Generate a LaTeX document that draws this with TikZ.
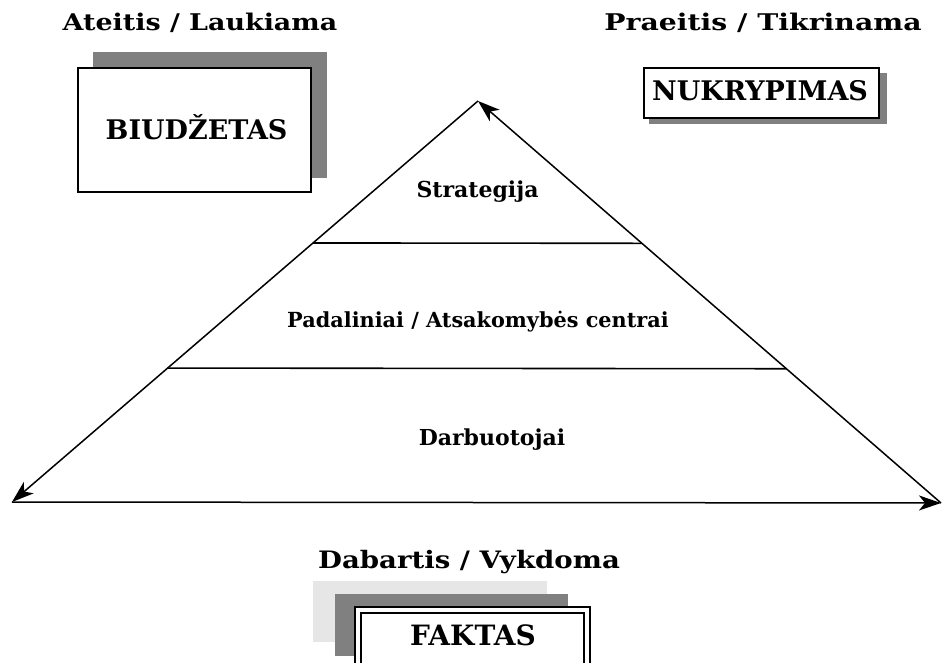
\documentclass[tikz,border=0pt]{standalone}
\usepackage{fontspec}
\usepackage{graphicx}
\setmainfont{DejaVu Serif}
\usetikzlibrary{arrows.meta,calc}
\definecolor{platedark}{RGB}{128,128,128}
\definecolor{platelight}{RGB}{230,230,230}
\begin{document}
\begin{tikzpicture}[x=1pt,y=-1pt,
  txt/.style={inner sep=0pt, anchor=base, font=\bfseries\fontsize{#1}{#1}\selectfont},
  box/.style={draw=black, line width=1.5pt, fill=white, inner sep=0pt},
  plate/.style={fill=#1, draw=none, inner sep=0pt},
  edge/.style={line width=1.5pt, -{Stealth[length=22pt,width=15pt,inset=6pt]}},
  tier/.style={line width=1.6pt}
]
\useasboundingbox (0,0) rectangle (942,663);

% headings
\node[txt=23] (future) at (200,31) {\scalebox{1.17}[1]{Ateitis / Laukiama}};
\node[txt=23] (past) at (763,31) {\scalebox{1.23}[1]{Praeitis / Tikrinama}};
\node[txt=24] (present) at (469,568) {\scalebox{1.15}[1]{Dabartis / Vykdoma}};

% budget box with its backing plate
\node[plate=platedark, minimum width=234pt, minimum height=126pt] (budsh) at (210,115) {};
\node[box, minimum width=233pt, minimum height=124pt] (budget) at (194.5,130) {};
\node[txt=27] (budgettext) at (196.6,140) {BIUDŽETAS};

% deviation box with drop shadow
\node[plate=platedark, minimum width=238pt, minimum height=51pt] (devsh) at (768,98.5) {};
\node[box, minimum width=235pt, minimum height=50pt] (deviation) at (761.5,93) {};
\node[txt=27] (devtext) at (760,101) {NUKRYPIMAS};

% fact box with stacked plates
\node[plate=platelight, minimum width=234pt, minimum height=61pt] (factsh1) at (430,611.5) {};
\node[plate=platedark, minimum width=233pt, minimum height=62pt] (factsh2) at (451.5,625) {};
\node[draw=black, line width=2pt, double=white, double distance=4pt, fill=white, minimum width=229pt, minimum height=58pt, inner sep=0pt] (fact) at (472.5,639) {};
\node[txt=28] (facttext) at (473,645) {FAKTAS};

% pyramid corners
\coordinate (apex) at (478,101);
\coordinate (bl) at (12,502);
\coordinate (br) at (941,503);

% pyramid sides
\draw[edge] (br) -- (apex);
\draw[edge] (apex) -- (bl);
\draw[edge] (bl) -- (br);

% tier boundaries
\coordinate (t1l) at ($(apex)!0.354!(bl)$);
\coordinate (t1r) at ($(apex)!0.354!(br)$);
\coordinate (t2l) at ($(apex)!0.666!(bl)$);
\coordinate (t2r) at ($(apex)!0.666!(br)$);
\draw[tier] (t1l) -- (t1r);
\draw[tier] (t2l) -- (t2r);

% tier labels
\node[txt=22] (strategy) at (477.5,198) {Strategija};
\node[txt=20.8] (units) at (478,327) {Padaliniai / Atsakomybės centrai};
\node[txt=22] (staff) at (492,445) {Darbuotojai};
\end{tikzpicture}
\end{document}
